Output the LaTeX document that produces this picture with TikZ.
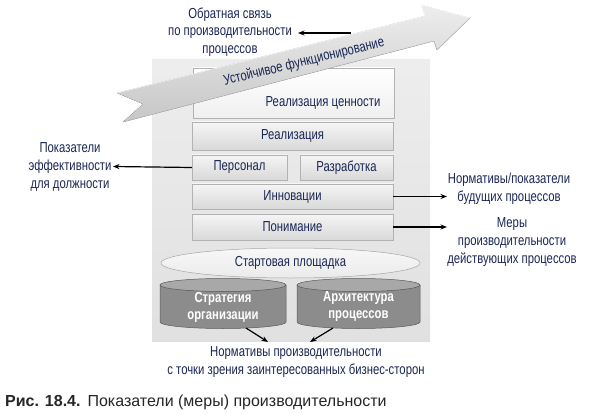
\documentclass[tikz,border=0pt]{standalone}
\usepackage{fontspec}
\setmainfont{Liberation Sans}[FakeStretch=0.78]
\newfontfamily\capfont{Liberation Sans}
\usetikzlibrary{shapes.geometric,arrows.meta}
\definecolor{txt}{RGB}{26,38,84}
\definecolor{panelA}{gray}{0.93}
\definecolor{panelB}{gray}{0.88}
\definecolor{barA}{gray}{0.96}
\definecolor{barB}{gray}{0.85}
\definecolor{barShadow}{gray}{0.62}
\definecolor{cylBody}{gray}{0.55}
\definecolor{cylTop}{gray}{0.66}
\definecolor{cylLine}{gray}{0.35}
\definecolor{arrA}{gray}{0.93}
\definecolor{arrB}{gray}{0.78}
\begin{document}
\begin{tikzpicture}[x=1pt,y=-1pt,
  lbl/.style={font=\fontsize{14.5}{17.8}\selectfont, text=txt, align=center, inner sep=0pt},
  bar/.style={font=\fontsize{14.5}{16}\selectfont, text=txt, inner sep=0pt,
    top color=barA, bottom color=barB, draw=black!30, line width=0.4pt,
    preaction={fill=barShadow, transform canvas={shift={(1.3pt,-1.3pt)}}}},
  cyltext/.style={font=\bfseries\fontsize{14.5}{17}\selectfont, text=white, align=center, inner sep=0pt},
  conn/.style={-{Stealth[length=6.5pt,width=5pt]}, line width=1.2pt, black}
]
\useasboundingbox (0,0) rectangle (591,414);

% panel
\node[top color=panelA, bottom color=panelB, minimum width=278pt, minimum height=281pt, inner sep=0pt] (panel) at (291,200.5) {};

% value box
\node[bar, top color=white, bottom color=barA!80!barB, minimum width=201pt, minimum height=50pt] (valbox) at (293.5,93) {};
\node[lbl] (valtext) at (323,103) {Реализация ценности};

% bars
\node[bar, minimum width=201pt, minimum height=28pt] (real) at (292.5,136) {Реализация};
\node[bar, minimum width=95pt, minimum height=25pt] (pers) at (239.5,167.5) {Персонал};
\node[bar, minimum width=93pt, minimum height=25pt] (dev) at (346.5,167.5) {Разработка};
\node[bar, minimum width=201pt, minimum height=25pt] (innov) at (292.5,196.5) {Инновации};
\node[bar, minimum width=201pt, minimum height=26pt] (under) at (292.5,227) {Понимание};

% launch pad ellipse
\node[ellipse, top color=white!60!panelA, bottom color=panelA!80!panelB, draw=black!35, line width=0.5pt,
  minimum width=259pt, minimum height=30pt, inner sep=0pt, font=\fontsize{14.5}{16}\selectfont, text=txt] (start) at (290.5,263) {Стартовая площадка};

% cylinders
\fill[cylBody] (160,285) -- (160,322) arc[start angle=180,end angle=360,x radius=63pt,y radius=6.5pt] -- (286,285) -- cycle;
\draw[cylLine, line width=0.5pt] (160,285) -- (160,322) arc[start angle=180,end angle=360,x radius=63pt,y radius=6.5pt] -- (286,285);
\filldraw[fill=cylTop, draw=cylLine, line width=0.5pt] (223,285) ellipse[x radius=63pt, y radius=6.5pt];
\node[cyltext] (strat) at (223,307) {Стратегия\\организации};

\fill[cylBody] (297,285) -- (297,322) arc[start angle=180,end angle=360,x radius=61.5pt,y radius=6.5pt] -- (420,285) -- cycle;
\draw[cylLine, line width=0.5pt] (297,285) -- (297,322) arc[start angle=180,end angle=360,x radius=61.5pt,y radius=6.5pt] -- (420,285);
\filldraw[fill=cylTop, draw=cylLine, line width=0.5pt] (358.5,285) ellipse[x radius=61.5pt, y radius=6.5pt];
\node[cyltext] (arch) at (358.5,307) {Архитектура\\процессов};

% big arrow
\fill[top color=arrA, bottom color=arrB]
  (117,93) -- (425,16) -- (421,5) -- (470,18) -- (437,50) -- (434,41) -- (123,122) -- (143,104) -- cycle;
\draw[black!28, line width=0.5pt] (123,122) -- (434,41) -- (437,50) -- (470,18);
\draw[white, line width=0.6pt] (117,93) -- (425,16) -- (421,5) -- (470,18);
\node[lbl, rotate=13.8] (steady) at (304,62) {Устойчивое функционирование};

% outer labels
\node[lbl] (feedback) at (230,32) {Обратная связь\\по производительности\\процессов};
\node[lbl] (effect) at (70,167) {Показатели\\эффективности\\для должности};
\node[lbl] (future) at (509,189) {Нормативы/показатели\\будущих процессов};
\node[lbl] (current) at (512,242) {Меры\\производительности\\действующих процессов};
\node[lbl] (norms) at (296,362) {Нормативы производительности\\с точки зрения заинтересованных бизнес-сторон};

% connectors
\coordinate (fbstart) at (351,33);
\coordinate (fbend) at (298,33);
\draw[conn] (fbstart) -- (fbend);
\coordinate (effend) at (113,166.5);
\draw[conn] (pers.west) -- (effend);
\coordinate (futend) at (447,196.5);
\draw[conn] (innov.east) -- (futend);
\coordinate (curend) at (447,227);
\draw[conn] (under.east) -- (curend);
\coordinate (s1) at (246,328);
\coordinate (e1) at (268,342);
\coordinate (s2) at (333,328);
\coordinate (e2) at (310,342);
\draw[conn] (s1) -- (e1);
\draw[conn] (s2) -- (e2);

% caption
\node[anchor=base west, inner sep=0pt, font=\capfont\fontsize{16}{18}\selectfont, text=black!85] (caption) at (5,406)
  {\textbf{Рис. 18.4.}\hspace{7pt}Показатели (меры) производительности};
\end{tikzpicture}
\end{document}
